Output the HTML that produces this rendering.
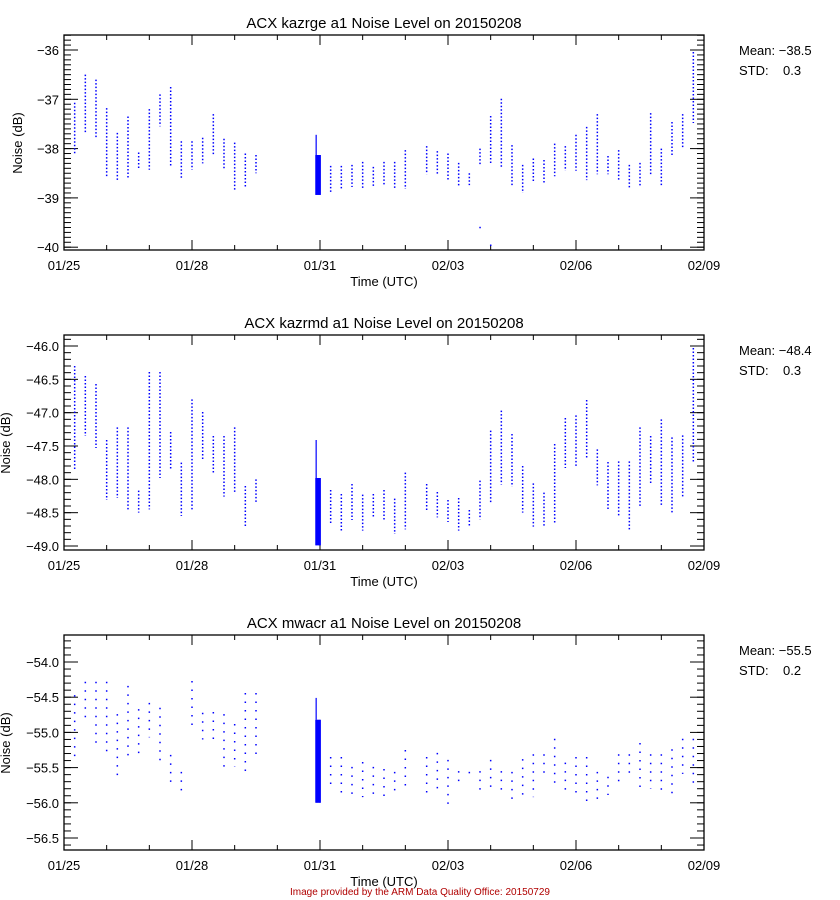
<!DOCTYPE html>
<html><head><meta charset="utf-8">
<style>
html,body{margin:0;padding:0;background:#fff;}
svg{display:block;font-family:"Liberation Sans",sans-serif;}
text{fill:#000;}
</style></head>
<body>
<svg id="chart" width="840" height="900" viewBox="0 0 840 900">
<rect x="0" y="0" width="840" height="900" fill="#fff"/>
<text x="420" y="895" text-anchor="middle" font-size="10" style="fill:#b00000">Image provided by the ARM Data Quality Office: 20150729</text>
</svg>
<script>
// ---- shared x data ----
const xTickLabels = ["01/25","01/28","01/31","02/03","02/06","02/09"];
const xTickDays = [0,3,6,9,12,15];
const colTimes1 = [0.25,0.5,0.75,1,1.25,1.5,1.75,2,2.25,2.5,2.75,3,3.25,3.5,3.75,4,4.25,4.5];
const colTimes2 = [6.25,6.5,6.75,7,7.25,7.5,7.75,8,8.5,8.75,9,9.25,9.5,9.75,10,10.25,10.5,10.75,11,11.25,11.5,11.75,12,12.25,12.5,12.75,13,13.25,13.5,13.75,14,14.25,14.5,14.75];
const blockTimes = [5.91,5.94,5.97,6.0];

// ---- panel 1: kazrge ----
const p1Min = [-38.13,-37.68,-37.8,-38.58,-38.66,-38.6,-38.43,-38.43,-37.55,-38.37,-38.62,-38.43,-38.3,-38.15,-38.41,-38.86,-38.8,-38.5,
 -38.9,-38.82,-38.78,-38.82,-38.78,-38.74,-38.82,-38.82,-38.52,-38.52,-38.64,-38.78,-38.74,-38.33,-38.33,-38.37,-38.76,-38.9,-38.68,-38.7,-38.56,-38.45,-38.45,-38.64,-38.52,-38.52,-38.64,-38.82,-38.78,-38.52,-38.78,-38.15,-37.97,-37.48];
const p1Max = [-37.07,-36.5,-36.6,-37.18,-37.68,-37.35,-38.08,-37.2,-36.9,-36.75,-37.85,-37.85,-37.78,-37.3,-37.8,-37.88,-38.1,-38.13,
 -38.35,-38.35,-38.33,-38.27,-38.37,-38.27,-38.27,-38.03,-37.95,-38.05,-38.1,-38.29,-38.5,-38.0,-37.34,-36.99,-37.93,-38.33,-38.2,-38.23,-37.9,-37.95,-37.72,-37.56,-37.3,-38.15,-38.03,-38.33,-38.29,-37.28,-38.0,-37.46,-37.3,-36.04];
const p1Block = [-38.13,-38.94,-37.72];
const p1Outliers = [[9.75,-39.6],[10,-39.96]];
const p1Ticks = [-36,-37,-38,-39,-40];
const p1Stats = ["-38.5","0.3"];

// ---- panel 2: kazrmd ----
const p2Min = [-47.87,-47.35,-47.53,-48.31,-48.28,-48.45,-48.5,-48.45,-47.98,-47.85,-48.55,-48.46,-47.72,-47.92,-48.26,-48.2,-48.73,-48.36,
 -48.67,-48.79,-48.61,-48.77,-48.58,-48.61,-48.82,-48.75,-48.49,-48.57,-48.64,-48.77,-48.7,-48.6,-48.37,-48.08,-48.11,-48.5,-48.71,-48.71,-48.65,-47.83,-47.8,-47.68,-48.09,-48.46,-48.54,-48.75,-48.42,-48.07,-48.39,-48.5,-48.27,-47.74];
const p2Max = [-46.3,-46.45,-46.57,-47.41,-47.22,-47.22,-48.17,-46.39,-46.39,-47.29,-47.75,-46.8,-46.99,-47.35,-47.35,-47.22,-48.1,-48.0,
 -48.16,-48.22,-48.07,-48.23,-48.22,-48.16,-48.29,-47.9,-48.07,-48.19,-48.31,-48.28,-48.46,-48.02,-47.27,-46.97,-47.32,-47.8,-48.06,-48.2,-47.47,-47.08,-47.04,-46.81,-47.55,-47.74,-47.73,-47.73,-47.22,-47.35,-47.1,-47.37,-47.34,-46.03];
const p2Block = [-47.98,-48.99,-47.41];
const p2Ticks = [-46.0,-46.5,-47.0,-47.5,-48.0,-48.5,-49.0];
const p2Stats = ["-48.4","0.3"];

// ---- panel 3: mwacr ----
const p3Min = [-55.35,-54.84,-55.19,-55.32,-55.7,-55.39,-55.38,-55.07,-55.49,-55.72,-55.85,-54.91,-55.1,-55.14,-55.49,-55.49,-55.56,-55.32,
 -55.79,-55.92,-55.93,-55.92,-55.97,-55.97,-55.86,-55.85,-55.92,-55.83,-56.02,-55.78,-55.68,-55.86,-55.85,-55.85,-55.99,-55.92,-55.92,-55.59,-55.8,-55.89,-55.89,-56.03,-56.03,-55.89,-55.76,-55.59,-55.8,-55.8,-55.88,-55.88,-55.59,-55.8];
const p3Max = [-54.47,-54.28,-54.28,-54.28,-54.74,-54.34,-54.67,-54.58,-54.65,-55.32,-55.56,-54.27,-54.72,-54.71,-54.74,-54.88,-54.44,-54.44,
 -55.35,-55.35,-55.49,-55.42,-55.49,-55.52,-55.56,-55.25,-55.35,-55.29,-55.39,-55.55,-55.56,-55.55,-55.39,-55.55,-55.56,-55.38,-55.31,-55.31,-55.09,-55.43,-55.35,-55.35,-55.56,-55.63,-55.31,-55.31,-55.15,-55.31,-55.31,-55.24,-55.09,-55.09];
const p3Block = [-54.82,-56.0,-54.51];
const p3Ticks = [-54.0,-54.5,-55.0,-55.5,-56.0,-56.5];
const p3Stats = ["-55.5","0.2"];

const NS="http://www.w3.org/2000/svg";
const svg=document.getElementById('chart');
function mk(tag,attrs,parent){const e=document.createElementNS(NS,tag);for(const k in attrs)e.setAttribute(k,attrs[k]);(parent||svg).appendChild(e);return e;}

const X0=64,X1=704;
function xScale(t){return X0+(X1-X0)*t/15;}

function panel(cfg){
  const top=cfg.top,bot=cfg.top+215;
  const yScale=v=>cfg.y0+(cfg.v0-v)*cfg.k;
  const g=mk('g',{});
  
  
  const tt=mk('text',{x:384,y:top-7,'text-anchor':'middle','font-size':15},g);
  tt.textContent=cfg.title;
  
  
  const fr=mk('rect',{x:X0,y:top,width:X1-X0,height:215,fill:'none',stroke:'#000','stroke-width':1.3},g);
  
  
  for(let d=0;d<=15;d++){
    const x=xScale(d),L=(d%3===0)?10:5;
    mk('line',{x1:x,y1:bot,x2:x,y2:bot-L,stroke:'#000'},g);
    mk('line',{x1:x,y1:top,x2:x,y2:top+L,stroke:'#000'},g);
  }
  xTickDays.forEach((d,i)=>{
    const t=mk('text',{x:xScale(d),y:bot+20,'text-anchor':'middle','font-size':13},g);
    t.textContent=xTickLabels[i];
    
    
  });
  const xt=mk('text',{x:384,y:bot+36,'text-anchor':'middle','font-size':13},g);
  xt.textContent='Time (UTC)';
  
  
  const vTop=cfg.v0-(top-cfg.y0)/cfg.k, vBot=cfg.v0-(bot-cfg.y0)/cfg.k;
  for(let v=Math.floor(vBot*10)/10;v<=vTop+1e-9;v+=0.1){
    const y=yScale(v); if(y<top||y>bot)continue;
    mk('line',{x1:X0,y1:y,x2:X0+7,y2:y,stroke:'#000'},g);
    mk('line',{x1:X1,y1:y,x2:X1-7,y2:y,stroke:'#000'},g);
  }
  cfg.ticks.forEach(v=>{
    const y=yScale(v);
    mk('line',{x1:X0,y1:y,x2:X0+14,y2:y,stroke:'#000'},g);
    mk('line',{x1:X1,y1:y,x2:X1-14,y2:y,stroke:'#000'},g);
    const t=mk('text',{x:X0-5,y:y+5,'text-anchor':'end','font-size':13},g);
    t.textContent=cfg.dec?v.toFixed(1).replace('-','\u2212'):String(v).replace('-','\u2212');
    
    
  });
  const yt=mk('text',{x:0,y:0,'text-anchor':'middle','font-size':13,transform:`translate(${cfg.ylx},${top+108}) rotate(-90)`},g);
  yt.textContent='Noise (dB)';
  
  
  const m=mk('text',{x:739,y:top+20,'font-size':13},g);
  m.textContent='Mean: '+cfg.stats[0].replace('-','\u2212');
  
  
  const s=mk('text',{x:739,y:top+40,'font-size':13},g);
  s.textContent='STD:    '+cfg.stats[1];
  s.style.whiteSpace='pre';
  
  
  const times=colTimes1.concat(colTimes2);
  times.forEach((t,i)=>{
    const x=xScale(t);
    const c=mk('line',{x1:x,y1:yScale(cfg.max[i]),x2:x,y2:yScale(cfg.min[i]),stroke:'#0000ff','stroke-width':1.5,'stroke-dasharray':cfg.dash},g);
    
    
  });
  blockTimes.forEach(t=>{
    const x=xScale(t);
    const b=mk('line',{x1:x,y1:yScale(cfg.block[0]),x2:x,y2:yScale(cfg.block[1]),stroke:'#0000ff','stroke-width':1.8},g);
    
    
  });
  const sp=mk('line',{x1:xScale(blockTimes[0]),y1:yScale(cfg.block[2]),x2:xScale(blockTimes[0]),y2:yScale(cfg.block[0]),stroke:'#0000ff','stroke-width':1.2},g);
  
  
  (cfg.outliers||[]).forEach(o=>{
    const p=mk('rect',{x:xScale(o[0])-0.7,y:yScale(o[1])-0.7,width:1.5,height:1.5,fill:'#0000ff'},g);
    
    
  });
}

panel({name:'kazrge-panel',title:'ACX kazrge a1 Noise Level on 20150208',top:35,y0:50,v0:-36,k:49.3,ticks:p1Ticks,dec:false,min:p1Min,max:p1Max,block:p1Block,outliers:p1Outliers,stats:p1Stats,dash:'1.5 2',ylx:22});
panel({name:'kazrmd-panel',title:'ACX kazrmd a1 Noise Level on 20150208',top:335,y0:346,v0:-46,k:66.67,ticks:p2Ticks,dec:true,min:p2Min,max:p2Max,block:p2Block,stats:p2Stats,dash:'1.5 2',ylx:10});
panel({name:'mwacr-panel',title:'ACX mwacr a1 Noise Level on 20150208',top:635,y0:662,v0:-54,k:70.4,ticks:p3Ticks,dec:true,min:p3Min,max:p3Max,block:p3Block,stats:p3Stats,dash:'1.5 7',ylx:10});
</script>
</body></html>
